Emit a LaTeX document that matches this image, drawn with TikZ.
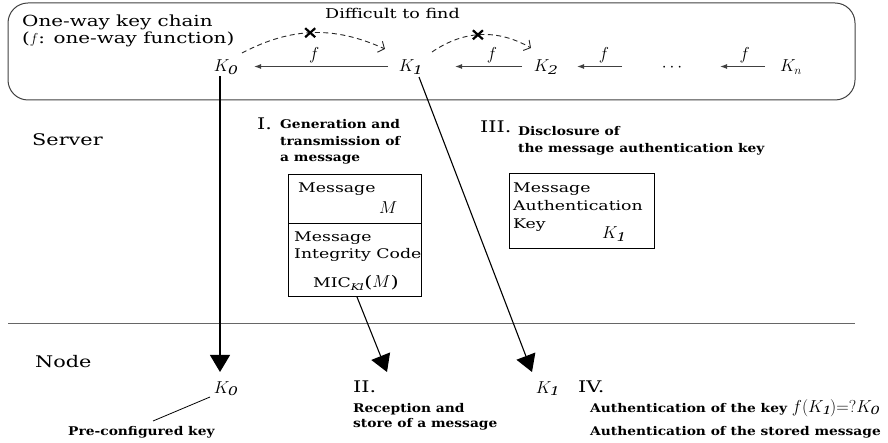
\documentclass[tikz,border=0pt]{standalone}
\usepackage{fontspec}
\setmainfont{DejaVu Serif}[FakeStretch=1.3]
\newfontfamily\lblfont{DejaVu Serif}[FakeStretch=1.15]
\usetikzlibrary{arrows.meta}

\begin{document}
\begin{tikzpicture}[x=1pt,y=-1pt,
  txt/.style={font=\fontsize{15.3}{17}\selectfont, anchor=base west, inner sep=0pt},
  boxtxt/.style={font=\fontsize{13.3}{16}\selectfont, anchor=base west, inner sep=0pt},
  lbl/.style={font=\lblfont\bfseries\fontsize{12}{15}\selectfont, anchor=base west, inner sep=0pt},
  roman/.style={font=\fontsize{16}{19}\selectfont, anchor=base west, inner sep=0pt},
  key/.style={font=\fontsize{17}{19}\selectfont, anchor=base, inner sep=0pt},
  flabel/.style={font=\fontsize{16}{18}\selectfont, anchor=base, inner sep=0pt},
  chain/.style={-{Latex[length=7pt,width=5pt]}, line width=1.1pt, draw=black!75},
  bigarrow/.style={-{Triangle[length=17pt,width=20pt]}, line width=1.1pt},
  hard/.style={dashed, dash pattern=on 5pt off 3.5pt, line width=0.9pt, draw=black!85,
               -{Straight Barb[length=5pt,width=12pt]}},
  cross/.style={line width=2.2pt, line cap=butt},
  frame/.style={draw=black!75, line width=1pt},
]
\useasboundingbox (0,0) rectangle (888,443);

% ---------- one-way key chain ----------
\draw[frame, rounded corners=20pt] (8,3) rectangle (855,100);
\node[txt] (chaintitle) at (22,27) {One-way key chain};
\node[txt] (chainnote) at (22,44) {($f$: one-way function)};

\node[key] (k0) at (225,72) {$K_{\mathit{0}}$};
\node[key] (k1) at (410,72) {$K_{\mathit{1}}$};
\node[key] (k2) at (545,72) {$K_{\mathit{2}}$};
\node[key] (dots) at (672,72) {$\cdots$};
\node[key] (kn) at (791,72) {$K_{n}$};

\coordinate (a1s) at (388,66.5); \coordinate (a1e) at (254,66.5);
\coordinate (a2s) at (522,66.5); \coordinate (a2e) at (455,66.5);
\coordinate (a3s) at (622,66.5); \coordinate (a3e) at (577,66.5);
\coordinate (a4s) at (765,66.5); \coordinate (a4e) at (720,66.5);
\draw[chain] (a1s) -- (a1e) node[flabel, pos=0.55, above=3pt] (f1) {$f$};
\draw[chain] (a2s) -- (a2e) node[flabel, pos=0.45, above=3pt] (f2) {$f$};
\draw[chain] (a3s) -- (a3e) node[flabel, pos=0.4, above=3pt] (f3) {$f$};
\draw[chain] (a4s) -- (a4e) node[flabel, pos=0.45, above=3pt] (f4) {$f$};

% impossible inversions
\node[font=\fontsize{13.5}{16}\selectfont, anchor=base west, inner sep=0pt] (difficult) at (325,19) {Difficult to find};
\coordinate (h1s) at (242,53); \coordinate (h1e) at (385,49);
\coordinate (h2s) at (432,52); \coordinate (h2e) at (531,48);
\draw[hard] (h1s) to[bend left=26] coordinate[pos=0.48] (x1) (h1e);
\draw[hard] (h2s) to[bend left=32] coordinate[pos=0.47] (x2) (h2e);
\foreach \c in {x1,x2}{
  \draw[cross] ([shift={(-5,-4.5)}]\c) -- ([shift={(5,4.5)}]\c);
  \draw[cross] ([shift={(-5,4.5)}]\c) -- ([shift={(5,-4.5)}]\c);
}

% ---------- server side ----------
\node[font=\fontsize{16}{19}\selectfont, anchor=base west, inner sep=0pt] (server) at (32,146) {Server};

\node[roman] (stepone) at (257,130) {I.};
\node[lbl] (steponea) at (280,129) {Generation and};
\node[lbl] (steponeb) at (280,146) {transmission of};
\node[lbl] (steponec) at (280,162) {a message};

\draw[frame, draw=black] (288,175) rectangle (421,297);
\draw[frame, draw=black] (288,224) -- (421,224);
\coordinate (msgbox) at (357,297);
\node[boxtxt] (msg) at (298,193) {Message};
\node[key, anchor=base west] (m) at (379,214) {$M$};
\node[boxtxt] (mica) at (294,242) {Message};
\node[boxtxt] (micb) at (294,259) {Integrity Code};
\node[boxtxt] (micval) at (313,288) {MIC$_{\mathit{K1}}$\fontsize{16}{18}\selectfont($M$)};

\node[roman] (stepthree) at (480,133) {III.};
\node[lbl] (stepthreea) at (518,136) {Disclosure of};
\node[lbl] (stepthreeb) at (518,153) {the message authentication key};

\draw[frame, draw=black] (509,174) rectangle (654,249);
\node[boxtxt] (maka) at (513,193) {Message};
\node[boxtxt] (makb) at (513,211) {Authentication};
\node[boxtxt] (makc) at (513,229) {Key};
\node[key, anchor=base west] (makkey) at (602,239) {$K_{\mathit{1}}$};

% ---------- divider ----------
\draw[line width=1pt, draw=black!60] (8,323) -- (855,323);

% ---------- node side ----------
\node[font=\fontsize{16}{19}\selectfont, anchor=base west, inner sep=0pt] (nodelbl) at (35,367) {Node};

\node[key] (k0n) at (225,393) {$K_{\mathit{0}}$};
\node[key] (k1n) at (547,393) {$K_{\mathit{1}}$};

\draw[bigarrow] ([xshift=-5pt,yshift=-1pt]k0.south) -- ([xshift=-5pt,yshift=9pt]k0n.north);
\draw[bigarrow] ([xshift=9pt,yshift=-2pt]k1.south) -- (532,372) coordinate (k1tip);
\draw[bigarrow] (msgbox) -- (387,372) coordinate (msgtip);

\node[lbl] (preconf) at (68,435) {Pre-configured key};
\coordinate (pc1) at (210,397);
\coordinate (pc2) at (153,421);
\draw[line width=0.8pt] (pc1) -- (pc2);

\node[roman] (steptwo) at (353,392) {II.};
\node[lbl] (steptwoa) at (353,412) {Reception and};
\node[lbl] (steptwob) at (353,427) {store of a message};

\node[roman] (stepfour) at (578,392) {IV.};
\node[lbl] (checkkey) at (590,412) {Authentication of the key \mdseries\fontsize{16}{18}\selectfont$f(K_{\mathit{1}})\mathord{=}?K_{\mathit{0}}$};
\node[lbl] (checkmsg) at (590,435) {Authentication of the stored message};
\end{tikzpicture}
\end{document}
